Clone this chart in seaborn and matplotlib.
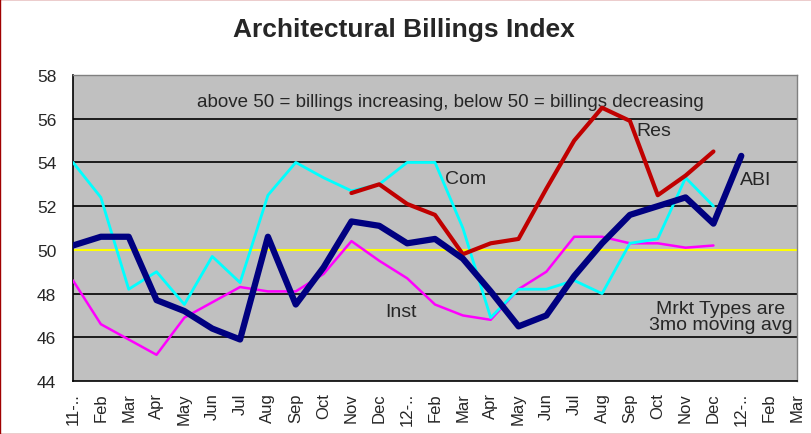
import numpy as np
import pandas as pd
import matplotlib
matplotlib.use("Agg")
import matplotlib.pyplot as plt
import seaborn as sns

# month labels as they appear on the axis (truncated year labels kept as shown)
months = ["11-..", "Feb", "Mar", "Apr", "May", "Jun", "Jul", "Aug", "Sep", "Oct", "Nov", "Dec",
          "12-..", "Feb", "Mar", "Apr", "May", "Jun", "Jul", "Aug", "Sep", "Oct", "Nov", "Dec",
          "12-..", "Feb", "Mar"]

abi = [50.2, 50.6, 50.6, 47.7, 47.2, 46.4, 45.9, 50.6, 47.5, 49.2, 51.3, 51.1,
       50.3, 50.5, 49.6, 48.1, 46.5, 47.0, 48.8, 50.3, 51.6, 52.0, 52.4, 51.2, 54.3]
res = [None] * 10 + [52.6, 53.0, 52.1, 51.6, 49.8, 50.3, 50.5, 52.8, 55.0, 56.5,
                     55.9, 52.5, 53.4, 54.5]
com = [54.0, 52.4, 48.2, 49.0, 47.5, 49.7, 48.5, 52.5, 54.0, 53.3, 52.7, 53.0,
       54.0, 54.0, 51.0, 46.9, 48.2, 48.2, 48.6, 48.0, 50.3, 50.5, 53.3, 52.0]
inst = [48.6, 46.6, 45.9, 45.2, 46.9, 47.6, 48.3, 48.1, 48.1, 48.9, 50.4, 49.5,
        48.7, 47.5, 47.0, 46.8, 48.2, 49.0, 50.6, 50.6, 50.3, 50.3, 50.1, 50.2]


def to_frame(vals):
    df = pd.DataFrame({"idx": np.arange(len(vals)), "val": vals})
    return df.dropna()


sns.set_style("white")
plt.rcParams["font.family"] = ["Liberation Sans", "DejaVu Sans"]

fig = plt.figure(figsize=(8.12, 4.35), dpi=100)
ax = fig.add_axes([0.0899, 0.1218, 0.8916, 0.7035])
ax.set_facecolor("#C0C0C0")

# gridlines + yellow 50 line
for yv in range(46, 58, 2):
    ax.axhline(yv, color="black", lw=1.2, zorder=1)
ax.axhline(50, color="#FFFF00", lw=1.5, zorder=1.5)

sns.lineplot(data=to_frame(inst), x="idx", y="val", color="#FF00FF", lw=1.8, ax=ax, zorder=3)
sns.lineplot(data=to_frame(com), x="idx", y="val", color="#00FFFF", lw=2.0, ax=ax, zorder=3)
sns.lineplot(data=to_frame(res), x="idx", y="val", color="#C00000", lw=3.0, ax=ax, zorder=4)
sns.lineplot(data=to_frame(abi), x="idx", y="val", color="#000080", lw=4.5, ax=ax, zorder=5)

ax.set_xlim(0, len(months) - 1)
ax.set_ylim(44, 58)
ax.set_xticks(np.arange(len(months)))
ax.set_xticklabels(months, rotation=90, fontsize=12)
ax.set_yticks(range(44, 59, 2))
ax.set_yticklabels([str(v) for v in range(44, 59, 2)], fontsize=12.5)
ax.tick_params(axis="x", direction="out", length=6, width=1, color="black", pad=2)
ax.tick_params(axis="y", direction="out", length=5, width=1, color="black", pad=7)
ax.set_xlabel("")
ax.set_ylabel("")

for side in ["left", "bottom"]:
    ax.spines[side].set_color("black")
    ax.spines[side].set_linewidth(1.2)
for side in ["top", "right"]:
    ax.spines[side].set_color("#808080")
    ax.spines[side].set_linewidth(1.0)

# annotations
ax.text(13.55, 56.8, "above 50 = billings increasing, below 50 = billings decreasing",
        ha="center", va="center", fontsize=13.5)
ax.text(13.35, 53.27, "Com", ha="left", va="center", fontsize=14)
ax.text(20.25, 55.44, "Res", ha="left", va="center", fontsize=14)
ax.text(23.95, 53.24, "ABI", ha="left", va="center", fontsize=14)
ax.text(11.2, 47.2, "Inst", ha="left", va="center", fontsize=14)
ax.text(23.25, 46.95, "Mrkt Types are\n3mo moving avg", ha="center", va="center",
        fontsize=14, linespacing=0.95)

fig.text(0.497, 0.932, "Architectural Billings Index", ha="center", va="center",
         fontsize=19, fontweight="bold")

fig.patches.append(plt.Rectangle((0, 0), 1, 1, transform=fig.transFigure,
                                 fill=False, edgecolor="#A00000", lw=1.0))

fig.savefig("out.png", dpi=100)
